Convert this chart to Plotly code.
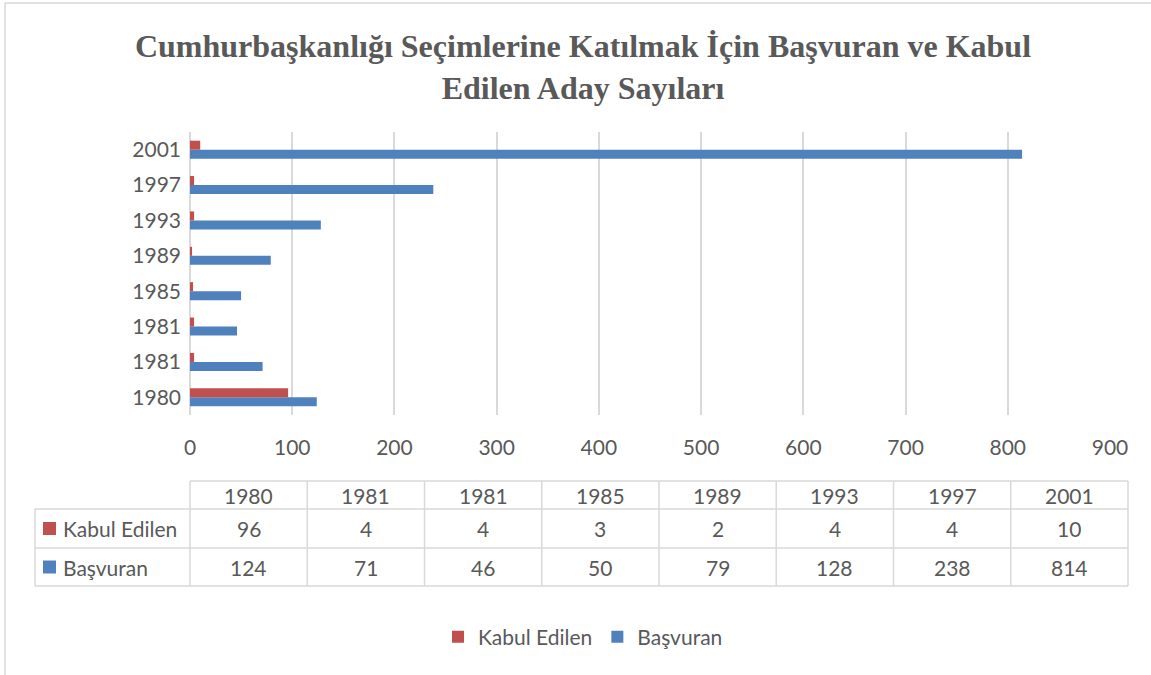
import plotly.graph_objects as go

years = ["1980", "1981", "1981", "1985", "1989", "1993", "1997", "2001"]
kabul = [96, 4, 4, 3, 2, 4, 4, 10]
basvuran = [124, 71, 46, 50, 79, 128, 238, 814]
series_names = ["Kabul Edilen", "Başvuran"]
colors = ["#C0504D", "#4F81BD"]
x_ticks = [0, 100, 200, 300, 400, 500, 600, 700, 800, 900]

W, H = 1151, 675
L, R, T, B = 190, 41, 132, 260
PW, PH = W - L - R, H - T - B
GRID = "#D9D9D9"
TXT = "#595959"
FONT = "Lato, 'Open Sans', sans-serif"
FS = 21

def px(x):
    return (x - L) / PW

def py(y):
    return (H - B - y) / PH

pos = list(range(len(years)))

fig = go.Figure()
fig.add_trace(go.Bar(y=pos, x=basvuran, orientation="h", name=series_names[1],
                     marker=dict(color=colors[1], line=dict(width=0))))
fig.add_trace(go.Bar(y=pos, x=kabul, orientation="h", name=series_names[0],
                     marker=dict(color=colors[0], line=dict(width=0))))

shapes = []
annotations = []

def txt(x, y, s, xanchor="center"):
    annotations.append(dict(x=px(x), y=py(y), xref="paper", yref="paper", xanchor=xanchor,
                            yanchor="middle", text=s, showarrow=False,
                            font=dict(size=FS, color=TXT, family=FONT)))

# data table
col_w = (1128 - 190) / len(years)
col_edges = [190 + i * col_w for i in range(len(years) + 1)]
row_edges = [481, 509, 548, 586]
lcol = dict(color=GRID, width=1.5)
shapes.append(dict(type="line", xref="paper", yref="paper", x0=px(190), x1=px(1128),
                   y0=py(row_edges[0]), y1=py(row_edges[0]), line=lcol))
for ry in row_edges[1:]:
    shapes.append(dict(type="line", xref="paper", yref="paper", x0=px(35), x1=px(1128),
                       y0=py(ry), y1=py(ry), line=lcol))
shapes.append(dict(type="line", xref="paper", yref="paper", x0=px(35), x1=px(35),
                   y0=py(row_edges[1]), y1=py(row_edges[3]), line=lcol))
for cx in col_edges:
    shapes.append(dict(type="line", xref="paper", yref="paper", x0=px(cx), x1=px(cx),
                       y0=py(row_edges[0]), y1=py(row_edges[3]), line=lcol))

row_centers = [(row_edges[i] + row_edges[i + 1]) / 2 for i in range(3)]
for i, yr in enumerate(years):
    cx = col_edges[i] + col_w / 2
    txt(cx, row_centers[0], yr)
    txt(cx, row_centers[1], str(kabul[i]))
    txt(cx, row_centers[2], str(basvuran[i]))

for j, name in enumerate(series_names):
    yc = row_centers[j + 1]
    shapes.append(dict(type="rect", xref="paper", yref="paper", x0=px(43), x1=px(56),
                       y0=py(yc + 6.5), y1=py(yc - 6.5), fillcolor=colors[j], line=dict(width=0)))
    txt(61, yc, name, xanchor="left")

# outer frame (left and top)
shapes.append(dict(type="line", xref="paper", yref="paper", x0=px(5), x1=px(5),
                   y0=py(3), y1=py(675), line=dict(color=GRID, width=1.5)))
shapes.append(dict(type="line", xref="paper", yref="paper", x0=px(5), x1=px(1151),
                   y0=py(3), y1=py(3), line=dict(color=GRID, width=1.5)))

fig.update_layout(
    width=W, height=H,
    margin=dict(l=L, r=R, t=T, b=B, autoexpand=False),
    paper_bgcolor="white", plot_bgcolor="white",
    barmode="group", bargap=0.49, bargroupgap=0,
    title=dict(text="<b>Cumhurbaşkanlığı Seçimlerine Katılmak İçin Başvuran ve Kabul<br>Edilen Aday Sayıları</b>",
               x=583 / W, xref="container", xanchor="center", y=1 - 57 / H, yref="container",
               yanchor="middle",
               font=dict(family="'Liberation Serif', 'Times New Roman', serif", size=32, color=TXT)),
    xaxis=dict(range=[0, 900], tickvals=x_ticks, ticktext=[str(v) for v in x_ticks],
               showgrid=True, gridcolor=GRID, gridwidth=1.5, zeroline=True, zerolinecolor=GRID,
               zerolinewidth=1.5, showline=False, ticks="", ticklabelstandoff=18,
               tickfont=dict(size=FS, color=TXT, family=FONT)),
    yaxis=dict(range=[-0.5, len(years) - 0.5], tickvals=pos, ticktext=years,
               showgrid=False, zeroline=False, showline=False, ticks="", ticklabelstandoff=8,
               tickfont=dict(size=FS, color=TXT, family=FONT)),
    showlegend=True,
    legend=dict(orientation="h", x=px(583), xanchor="center", y=py(637), yanchor="middle",
                traceorder="reversed", font=dict(size=FS, color=TXT, family=FONT),
                bgcolor="rgba(0,0,0,0)"),
    shapes=shapes, annotations=annotations,
)

fig.write_html("out.html", config={"displayModeBar": False},
               post_script="document.body.style.margin='0px';")
